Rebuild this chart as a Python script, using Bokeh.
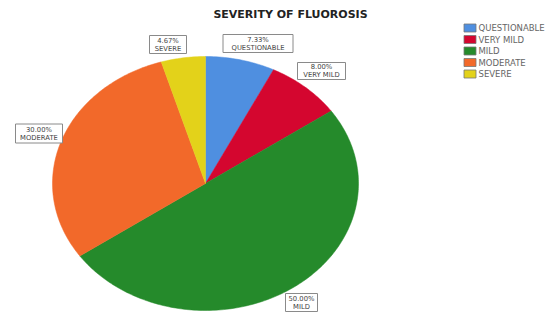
import math
from bokeh.plotting import figure
from bokeh.models import Range1d
from bokeh.core.properties import value
from bokeh.embed import file_html
from bokeh.resources import INLINE

# ---- data ----
categories = ["QUESTIONABLE", "VERY MILD", "MILD", "MODERATE", "SEVERE"]
counts = [11, 12, 75, 45, 7]
colors = ["#4F8FE0", "#D4062F", "#258A2B", "#F2692A", "#E3D21A"]
title_text = "SEVERITY OF FLUOROSIS"

# ---- layout (screen pixel coordinates) ----
W, H = 553, 316
cx, cy, rx, ry = 205, 183, 153, 127
label_pos = {  # centre of each label box, box width, box height
    "QUESTIONABLE": (257.5, 43, 70, 18),
    "VERY MILD": (321, 70.5, 48, 17),
    "MILD": (301, 302, 32, 18),
    "MODERATE": (38.5, 133, 47, 19),
    "SEVERE": (167.5, 44, 37, 18),
}

p = figure(width=W, height=H, output_backend="svg", toolbar_location=None,
           x_range=Range1d(0, W), y_range=Range1d(H, 0),
           min_border=0)
p.axis.visible = False
p.grid.visible = False
p.outline_line_color = None
p.background_fill_color = "white"

total = sum(counts)
pcts = [c / total * 100 for c in counts]

xs, ys = [], []
cum = 0.0
for c in counts:
    a0 = cum / total
    cum += c
    a1 = cum / total
    n = max(4, int((a1 - a0) * 360))
    px, py = [cx], [cy]
    for i in range(n + 1):
        t = a0 + (a1 - a0) * i / n
        th = math.pi / 2 - 2 * math.pi * t
        px.append(cx + rx * math.cos(th))
        py.append(cy - ry * math.sin(th))
    xs.append(px)
    ys.append(py)

p.patches(xs, ys, fill_color=colors, line_color=colors, line_width=0.5)

# labels
bx, by, bw, bh, t1, t2 = [], [], [], [], [], []
for cat, pc in zip(categories, pcts):
    x, y, w, h = label_pos[cat]
    bx.append(x); by.append(y); bw.append(w); bh.append(h)
    t1.append("%.2f%%" % pc); t2.append(cat)
p.rect(bx, by, bw, bh, fill_color="white", line_color="#8a8a8a", line_width=1)
p.text(bx, [y - 4 for y in by], text=t1, text_align="center",
       text_baseline="middle", text_font_size="6.8px", text_color="#444444",
       text_font=value("DejaVu Sans"))
p.text(bx, [y + 4 for y in by], text=t2, text_align="center",
       text_baseline="middle", text_font_size="6.8px", text_color="#444444",
       text_font=value("DejaVu Sans"))

# title
p.text([290], [14], text=[title_text], text_align="center", text_baseline="middle",
       text_font_size="11px", text_font_style="bold", text_color="#222222",
       text_font=value("DejaVu Sans"))

# legend
lx, ly0, step = 469.5, 27.5, 11.5
lys = [ly0 + i * step for i in range(len(categories))]
p.rect([lx] * len(categories), lys, 12, 8, fill_color=colors, line_color="#777777",
       line_width=0.8)
p.text([478] * len(categories), lys, text=categories, text_align="left",
       text_baseline="middle", text_font_size="8.5px", text_color="#666666",
       text_font=value("DejaVu Sans"))

open("out.html", "w").write(file_html(p, INLINE))
